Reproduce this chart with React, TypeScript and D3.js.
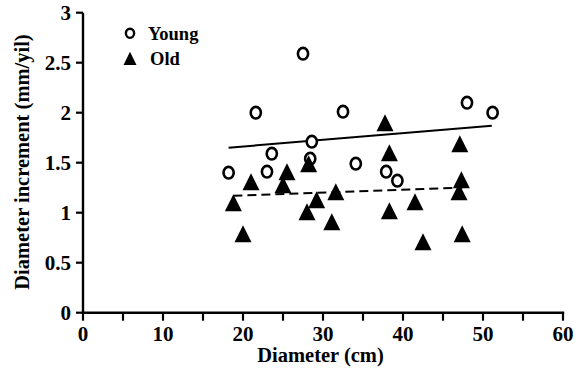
import React from "react";
import * as d3 from "d3";

const youngX = [18.2, 21.6, 23.0, 23.6, 27.5, 28.4, 28.6, 32.5, 34.1, 37.9, 39.3, 48.0, 51.2];
const youngY = [1.40, 2.00, 1.41, 1.59, 2.59, 1.54, 1.71, 2.01, 1.49, 1.41, 1.32, 2.10, 2.00];

const oldX = [18.8, 20.0, 21.0, 25.0, 25.5, 28.0, 28.2, 29.2, 31.1, 31.6, 37.75, 38.3, 38.3, 41.5, 42.5, 47.0, 47.1, 47.3, 47.4];
const oldY = [1.10, 0.79, 1.31, 1.28, 1.41, 1.01, 1.49, 1.13, 0.91, 1.21, 1.90, 1.60, 1.02, 1.11, 0.71, 1.21, 1.69, 1.33, 0.79];

const youngFitX = [18.2, 51.1];
const youngFitY = [1.65, 1.87];
const oldFitX = [18.8, 47.4];
const oldFitY = [1.17, 1.25];

const xTicks = [0, 10, 20, 30, 40, 50, 60];
const xMinorTicks = [0, 5, 10, 15, 20, 25, 30, 35, 40, 45, 50, 55, 60];
const yTicks = [0, 0.5, 1, 1.5, 2, 2.5, 3];
const yTickLabels = ["0", "0.5", "1", "1.5", "2", "2.5", "3"];

const legendLabels = ["Young", "Old"];
const xTitle = "Diameter (cm)";
const yTitle = "Diameter increment (mm/yil)";

const textStyle: React.CSSProperties = { fontFamily: "Liberation Serif", fontWeight: 700 };

export default function App() {
  const x = d3.scaleLinear().domain([0, 60]).range([83, 563]);
  const y = d3.scaleLinear().domain([0, 3]).range([312.7, 12.7]);
  const line = d3
    .line<[number, number]>()
    .x((d) => x(d[0]))
    .y((d) => y(d[1]));

  const youngFit: [number, number][] = youngFitX.map((v, i) => [v, youngFitY[i]]);
  const oldFit: [number, number][] = oldFitX.map((v, i) => [v, oldFitY[i]]);

  const tri = (cx: number, cy: number, h: number, w: number) =>
    `M${cx},${cy - h / 2}L${cx + w / 2},${cy + h / 2}L${cx - w / 2},${cy + h / 2}Z`;

  return (
    <svg
      width={584}
      height={368}
      style={{ position: "absolute", left: 0, top: 0, background: "#fff" }}
    >
      <rect x={0} y={0} width={584} height={368} fill="#fff" />
      <line x1={x(0)} x2={x(0)} y1={y(3)} y2={y(0)} stroke="#000" strokeWidth={2.4} />
      <line x1={x(0) - 1.2} x2={x(60) + 1.2} y1={y(0)} y2={y(0)} stroke="#000" strokeWidth={2.4} />
      {xMinorTicks.map((t) => (
        <line key={"xt" + t} x1={x(t)} x2={x(t)} y1={y(0)} y2={y(0) + 8} stroke="#000" strokeWidth={2.2} />
      ))}
      {yTicks.map((t) => (
        <line key={"yt" + t} x1={x(0) - 7} x2={x(0)} y1={y(t)} y2={y(t)} stroke="#000" strokeWidth={2.2} />
      ))}
      {xTicks.map((t) => (
        <text key={"xl" + t} x={x(t)} y={341} textAnchor="middle" style={textStyle} fontSize={21}>
          {t}
        </text>
      ))}
      {yTicks.map((t, i) => (
        <text
          key={"yl" + t}
          x={71}
          y={y(t)}
          dy="0.35em"
          textAnchor="end"
          style={textStyle}
          fontSize={21}
        >
          {yTickLabels[i]}
        </text>
      ))}
      <text x={320.5} y={361.5} textAnchor="middle" style={textStyle} fontSize={20.5}>
        {xTitle}
      </text>
      <text
        transform={`translate(28.5,162) rotate(-90)`}
        textAnchor="middle"
        style={textStyle}
        fontSize={20.5}
      >
        {yTitle}
      </text>

      <path d={line(youngFit) || ""} fill="none" stroke="#000" strokeWidth={2} />
      <path d={line(oldFit) || ""} fill="none" stroke="#000" strokeWidth={2} strokeDasharray="9,5" />

      {youngX.map((v, i) => (
        <ellipse
          key={"y" + i}
          cx={x(v)}
          cy={y(youngY[i])}
          rx={5.1}
          ry={5.8}
          fill="#fff"
          stroke="#000"
          strokeWidth={2.6}
        />
      ))}
      {oldX.map((v, i) => (
        <path key={"o" + i} d={tri(x(v), y(oldY[i]), 17, 17)} fill="#000" />
      ))}

      <ellipse cx={130} cy={33.3} rx={4.1} ry={4.6} fill="#fff" stroke="#000" strokeWidth={2.4} />
      <text x={148} y={40} style={textStyle} fontSize={18.5}>
        {legendLabels[0]}
      </text>
      <path d={tri(130, 58.3, 13.3, 13)} fill="#000" />
      <text x={150} y={65} style={textStyle} fontSize={18.5}>
        {legendLabels[1]}
      </text>
    </svg>
  );
}
